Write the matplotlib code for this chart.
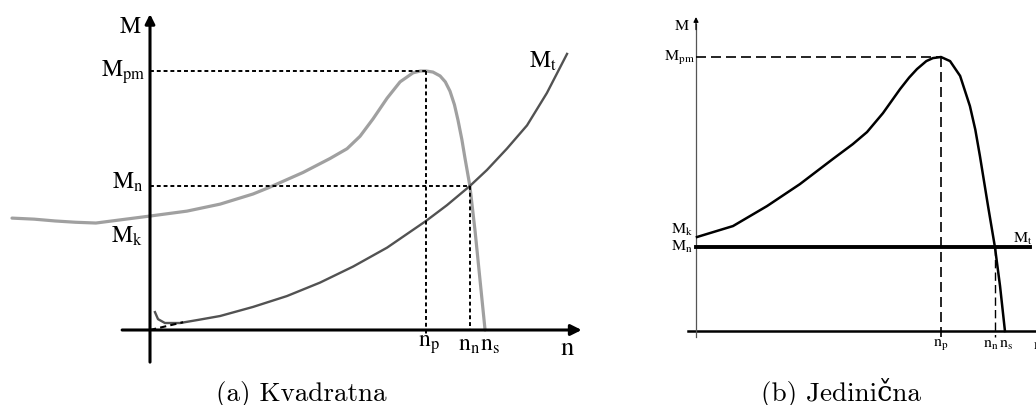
import matplotlib
matplotlib.use("Agg")
import matplotlib.pyplot as plt

plt.rcParams['mathtext.fontset'] = 'stix'

# (a) Kvadratna - normalised n (np = 1) and M (Mpm = 1)
a_motor_n = [-0.500, -0.420, -0.344, -0.270, -0.196, -0.109, 0.0, 0.134, 0.254, 0.373, 0.431,
             0.554, 0.652, 0.714, 0.761, 0.808, 0.859, 0.906, 0.953, 0.980, 1.0, 1.025, 1.051,
             1.070, 1.087, 1.103, 1.116, 1.130, 1.141, 1.159, 1.178, 1.196, 1.214]
a_motor_M = [0.432, 0.428, 0.421, 0.416, 0.413, 0.425, 0.440, 0.459, 0.486, 0.525, 0.550,
             0.608, 0.662, 0.700, 0.748, 0.815, 0.895, 0.958, 0.993, 1.0, 1.0, 0.996, 0.981,
             0.958, 0.922, 0.870, 0.810, 0.735, 0.665, 0.556, 0.380, 0.190, 0.0]
a_load_n = [0.018, 0.029, 0.054, 0.109, 0.180, 0.254, 0.373, 0.496, 0.616, 0.736, 0.859, 1.0,
            1.076, 1.159, 1.221, 1.293, 1.366, 1.438, 1.511]
a_load_M = [0.069, 0.042, 0.027, 0.027, 0.040, 0.054, 0.089, 0.131, 0.183, 0.245, 0.318, 0.421,
            0.482, 0.556, 0.618, 0.700, 0.790, 0.915, 1.066]
a_np, a_nn, a_ns = 1.0, 1.159, 1.214
a_Mpm, a_Mn = 1.0, 0.556

# (b) Jedinicna
b_motor_n = [0.004, 0.151, 0.290, 0.424, 0.559, 0.640, 0.698, 0.763, 0.833, 0.870, 0.902, 0.940,
             0.967, 1.0, 1.037, 1.078, 1.118, 1.140, 1.159, 1.192, 1.220, 1.241, 1.261]
b_motor_M = [0.343, 0.383, 0.456, 0.536, 0.628, 0.682, 0.726, 0.795, 0.883, 0.925, 0.956, 0.985,
             0.996, 1.0, 0.985, 0.931, 0.821, 0.735, 0.638, 0.456, 0.307, 0.164, 0.0]
b_load_n = [0.0, 1.363]
b_load_M = [0.307, 0.307]
b_np, b_nn, b_ns = 1.0, 1.220, 1.261
b_Mpm, b_Mn = 1.0, 0.307

fig = plt.figure(figsize=(10.36, 4.06), dpi=100)

def arrow(ax, x0, y0, x1, y1, lw, ms):
    ax.annotate('', xy=(x1, y1), xytext=(x0, y0),
                arrowprops=dict(arrowstyle='-|>', lw=lw, color='black', mutation_scale=ms,
                                shrinkA=0, shrinkB=0))

def lab(ax, x, y, s, size, ha='center', va='center'):
    ax.text(x, y, s, fontsize=size, ha=ha, va=va)

# ---------------- (a)
ax = fig.add_axes([0, 0, 600 / 1036, 1])
ax.set_xlim(-150 / 276, 450 / 276)
ax.set_ylim(-75 / 259, 331 / 259)
ax.axis('off')
arrow(ax, -0.101, 0, 1.564, 0, 2.2, 16)
arrow(ax, 0, -0.124, 0, 1.22, 2.2, 14)
ax.plot(a_motor_n, a_motor_M, color='#a0a0a0', lw=2.3, solid_capstyle='round',
        solid_joinstyle='round')
ax.plot(a_load_n, a_load_M, color='#525252', lw=1.7, solid_joinstyle='round')
ax.plot([0.0, 0.12], [0.0, 0.03], color='black', lw=1.5, ls=(0, (3, 2)))
dot = (0, (2.0, 1.5))
ax.plot([0, a_np], [a_Mpm, a_Mpm], color='black', lw=1.4, ls=dot)
ax.plot([a_np, a_np], [a_Mpm, -0.015], color='black', lw=1.4, ls=dot)
ax.plot([0, a_nn], [a_Mn, a_Mn], color='black', lw=1.4, ls=dot)
ax.plot([a_nn, a_nn], [a_Mn, 0], color='black', lw=1.4, ls=dot)
lab(ax, -0.072, 1.178, r'$\mathrm{M}$', 17)
lab(ax, -0.017, 1.0, r'$\mathrm{M_{pm}}$', 17, ha='right')
lab(ax, -0.025, 0.575, r'$\mathrm{M_{n}}$', 17, ha='right')
lab(ax, -0.025, 0.365, r'$\mathrm{M_{k}}$', 17, ha='right')
lab(ax, 1.373, 1.042, r'$\mathrm{M_{t}}$', 17, ha='left')
lab(ax, 1.01, -0.05, r'$\mathrm{n_{p}}$', 17)
lab(ax, 1.196, -0.05, r'$\mathrm{n_{n}}$', 17, ha='right')
lab(ax, 1.196, -0.05, r'$\mathrm{n_{s}}$', 17, ha='left')
lab(ax, 1.514, -0.066, r'$\mathrm{n}$', 19)

# ---------------- (b)
bx = fig.add_axes([600 / 1036, 0, 436 / 1036, 1])
bx.set_xlim(-96 / 245, 340 / 245)
bx.set_ylim(-74 / 274, 332 / 274)
bx.axis('off')
bx.plot([-0.033, 1.40], [0, 0], color='black', lw=1.8)
bx.plot([0, 0], [-0.022, 1.12], color='#555555', lw=0.9)
arrow(bx, 0, 1.10, 0, 1.146, 0.9, 7)
bx.plot(b_motor_n, b_motor_M, color='black', lw=1.8, solid_joinstyle='round')
bx.plot(b_load_n, b_load_M, color='black', lw=2.8)
dash = (0, (6, 3))
bx.plot([0, b_np], [b_Mpm, b_Mpm], color='black', lw=1.2, ls=dash)
bx.plot([b_np, b_np], [b_Mpm, -0.022], color='black', lw=1.2, ls=dash)
bx.plot([b_nn, b_nn], [b_Mn, -0.022], color='black', lw=1.0, ls=dash)
lab(bx, -0.057, 1.12, r'$\mathrm{M}$', 11.5)
lab(bx, -0.005, 1.0, r'$\mathrm{M_{pm}}$', 11.5, ha='right')
lab(bx, -0.012, 0.372, r'$\mathrm{M_{k}}$', 11.5, ha='right')
lab(bx, -0.012, 0.312, r'$\mathrm{M_{n}}$', 11.5, ha='right')
lab(bx, 1.294, 0.338, r'$\mathrm{M_{t}}$', 11.5, ha='left')
lab(bx, 1.0, -0.045, r'$\mathrm{n_{p}}$', 11.5)
lab(bx, 1.237, -0.045, r'$\mathrm{n_{n}}$', 11.5, ha='right')
lab(bx, 1.237, -0.045, r'$\mathrm{n_{s}}$', 11.5, ha='left')
lab(bx, 1.375, -0.045, r'$\mathrm{n}$', 11.5, ha='left')

cap_font = ['cmr10', 'DejaVu Serif']
fig.text(301 / 1036, 1 - 401 / 406, '(a) Kvadratna', fontsize=19.5, family=cap_font,
         ha='center', va='baseline')
fig.text(841 / 1036, 1 - 401 / 406, '(b) Jedinična', fontsize=19.5, family=cap_font,
         ha='center', va='baseline')

fig.savefig('out.png', dpi=100)
